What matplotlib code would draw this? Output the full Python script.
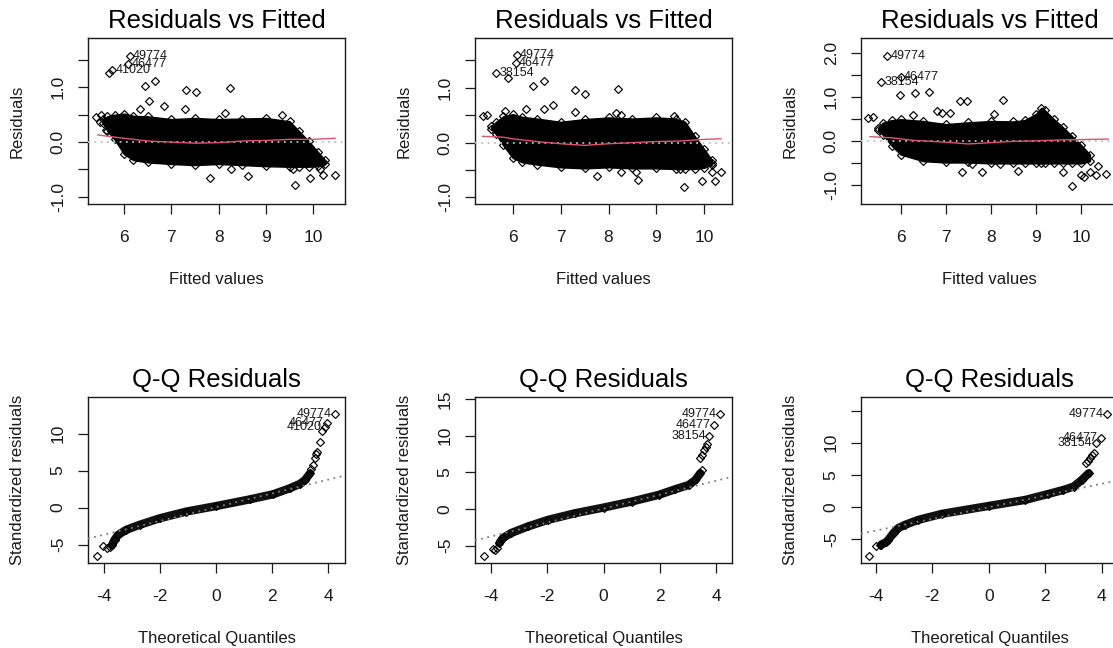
import matplotlib
matplotlib.use('Agg')
import matplotlib.pyplot as plt

plt.rcParams['font.family'] = ['Liberation Sans', 'DejaVu Sans']

# ---------------- Residuals vs Fitted (top row) ----------------
# outline of the dense black cloud: fitted value, upper and lower residual edge
cloud1_x = [5.55, 5.65, 5.8, 6.0, 6.2, 6.5, 7.0, 7.5, 8.0, 8.5, 9.0, 9.5, 9.7, 9.9, 10.1, 10.25]
cloud1_up = [0.42, 0.47, 0.5, 0.52, 0.48, 0.47, 0.42, 0.44, 0.42, 0.43, 0.44, 0.38, 0.2, 0.02, -0.18, -0.33]
cloud1_lo = [0.35, 0.2, 0.05, -0.22, -0.33, -0.37, -0.4, -0.42, -0.4, -0.42, -0.44, -0.45, -0.45, -0.45, -0.44, -0.40]

cloud2_x = [5.55, 5.65, 5.8, 6.0, 6.2, 6.5, 7.0, 7.5, 8.0, 8.5, 9.0, 9.4, 9.6, 9.8, 10.0, 10.16]
cloud2_up = [0.3, 0.38, 0.48, 0.52, 0.47, 0.44, 0.38, 0.43, 0.46, 0.44, 0.46, 0.44, 0.38, 0.12, -0.12, -0.32]
cloud2_lo = [0.25, 0.15, -0.05, -0.28, -0.36, -0.40, -0.45, -0.47, -0.45, -0.47, -0.47, -0.48, -0.48, -0.48, -0.46, -0.40]

cloud3_x = [5.5, 5.6, 5.8, 6.0, 6.5, 7.0, 7.5, 8.0, 8.5, 8.75, 9.0, 9.12, 9.2, 9.4, 9.6, 9.8, 10.0, 10.2]
cloud3_up = [0.3, 0.42, 0.48, 0.5, 0.46, 0.39, 0.43, 0.46, 0.45, 0.48, 0.62, 0.76, 0.7, 0.5, 0.32, 0.12, -0.08, -0.3]
cloud3_lo = [0.25, 0.15, -0.1, -0.3, -0.45, -0.48, -0.48, -0.5, -0.5, -0.5, -0.5, -0.5, -0.5, -0.5, -0.5, -0.5, -0.5, -0.45]

# stray points outside the cloud
out1_x = [5.68, 6.44, 6.66, 6.53, 6.85, 7.32, 7.52, 7.28, 8.24, 6.33, 8.14, 9.33, 7.81, 8.62, 9.61,
          9.93, 10.2, 10.46, 10.21, 10.14, 9.58, 8.26, 5.41, 5.52, 5.49, 5.63]
out1_y = [1.26, 1.02, 1.12, 0.75, 0.66, 0.95, 0.91, 0.6, 0.98, 0.61, 0.53, 0.5, -0.65, -0.62, -0.78,
          -0.65, -0.6, -0.6, -0.37, -0.49, -0.49, -0.49, 0.46, 0.49, 0.37, 0.22]
out2_x = [5.9, 6.42, 6.65, 6.28, 6.65, 6.84, 7.29, 7.5, 7.29, 8.2, 8.15, 8.27, 5.37, 5.46, 5.83, 9.36,
          7.75, 8.27, 8.62, 8.57, 9.57, 9.95, 10.23, 10.16, 10.34, 10.17, 9.5]
out2_y = [1.18, 1.04, 1.12, 0.61, 0.61, 0.68, 0.96, 0.89, 0.56, 0.98, 0.55, 0.5, 0.48, 0.51, 0.57, 0.48,
          -0.61, -0.53, -0.68, -0.53, -0.81, -0.7, -0.7, -0.53, -0.53, -0.37, -0.49]
out3_x = [5.99, 6.32, 6.63, 7.32, 7.47, 8.28, 6.28, 6.8, 6.91, 7.1, 8.06, 5.27, 5.39, 7.36, 7.8, 7.58,
          8.61, 9.8, 9.99, 10.06, 10.33, 10.56, 10.37, 9.61, 8.21, 10.2]
out3_y = [1.06, 1.1, 1.12, 0.91, 0.91, 0.94, 0.59, 0.69, 0.65, 0.65, 0.61, 0.52, 0.55, -0.7, -0.7, -0.51,
          -0.67, -1.02, -0.77, -0.81, -0.77, -0.75, -0.57, -0.7, -0.51, -0.7]

# labelled observations
ids1 = ['49774', '46477', '41020']
ids1_x = [6.12, 6.08, 5.75]
ids1_y = [1.58, 1.43, 1.32]
ids2 = ['49774', '46477', '38154']
ids2_x = [6.08, 6.06, 5.65]
ids2_y = [1.6, 1.45, 1.28]
ids3 = ['49774', '46477', '38154']
ids3_x = [5.7, 6.0, 5.56]
ids3_y = [1.93, 1.45, 1.34]

# red smoother
smooth1_x = [5.45, 5.9, 6.5, 7.0, 7.5, 8.0, 8.5, 9.0, 9.5, 10.0, 10.46]
smooth1_y = [0.13, 0.08, 0.02, 0.0, -0.02, -0.01, 0.02, 0.03, 0.05, 0.05, 0.07]
smooth2_x = [5.37, 5.8, 6.0, 6.5, 7.0, 7.5, 8.0, 8.5, 9.0, 9.5, 10.0, 10.35]
smooth2_y = [0.115, 0.1, 0.07, 0.02, -0.02, -0.05, -0.02, 0.0, 0.02, 0.03, 0.06, 0.07]
smooth3_x = [5.32, 5.8, 6.3, 7.0, 7.5, 8.0, 8.5, 9.0, 9.5, 10.0, 10.6]
smooth3_y = [0.105, 0.08, 0.02, -0.02, -0.06, -0.03, 0.0, 0.01, 0.03, 0.04, 0.05]

# ---------------- Q-Q Residuals (bottom row) ----------------
qq1_x = [-3.72, -3.62, -3.5, -3.2, -2.73, -2.0, -1.06, 0, 1.2, 2.04, 2.63, 2.99, 3.17, 3.35]
qq1_y = [-5.1, -4.35, -3.7, -3.0, -2.33, -1.44, -0.54, 0.2, 1.1, 1.8, 2.6, 3.2, 3.7, 4.6]
qq1_tail_x = [-4.24, -4.04, -3.9, -3.8, 3.4, 3.46, 3.52, 3.55, 3.6, 3.7, 3.77]
qq1_tail_y = [-6.6, -5.25, -5.5, -5.35, 5.2, 5.8, 6.7, 7.2, 7.5, 8.83, 10.3]
qq1_ids = ['49774', '46477', '41020']
qq1_ids_x = [4.24, 3.95, 3.88]
qq1_ids_y = [12.6, 11.4, 10.85]
qq1_line = (0.05, 0.93)  # intercept, slope

qq2_x = [-3.7, -3.58, -3.29, -2.69, -1.98, -1.02, 0, 1.0, 1.95, 2.54, 3.02, 3.25, 3.43]
qq2_y = [-4.66, -3.98, -3.3, -2.4, -1.5, -0.6, 0.18, 1.0, 1.9, 2.67, 3.26, 3.9, 4.84]
qq2_tail_x = [-4.26, -3.94, -3.85, -3.78, 3.49, 3.43, 3.5, 3.55, 3.62, 3.67]
qq2_tail_y = [-6.4, -5.43, -5.6, -5.3, 5.3, 7.0, 7.4, 8.0, 8.4, 8.9]
qq2_ids = ['49774', '46477', '38154']
qq2_ids_x = [4.15, 3.91, 3.75]
qq2_ids_y = [12.9, 11.5, 10.0]
qq2_line = (0.04, 0.95)

qq3_x = [-3.8, -3.62, -3.55, -3.37, -3.2, -2.96, -2.49, -1.66, 0, 1.29, 2.11, 2.64, 3.0, 3.29, 3.53]
qq3_y = [-5.8, -5.4, -5.05, -4.0, -3.25, -2.73, -1.96, -1.03, 0.2, 1.13, 2.06, 2.68, 3.2, 4.23, 5.26]
qq3_tail_x = [-4.24, -4.0, -3.85, 3.45, 3.5, 3.59, 3.65, 3.71]
qq3_tail_y = [-7.63, -5.98, -5.8, 6.8, 7.1, 7.58, 8.1, 8.45]
qq3_ids = ['49774', '46477', '38154']
qq3_ids_x = [4.18, 3.98, 3.79]
qq3_ids_y = [14.4, 10.8, 9.9]
qq3_line = (0.0, 0.91)

INK = '#1a1a1a'
W, H = 1113, 648
cols_px = [88, 475, 861]
rows_px = [(38, 204), (397, 563)]
AX_W = 257
MK = dict(ls='none', marker='D', ms=4.3, mfc='none', mec='black', mew=0.85)


def make_axes(fig, col, row):
    top, bot = rows_px[row]
    ax = fig.add_axes([cols_px[col] / W, (H - bot) / H, AX_W / W, (bot - top) / H])
    for s in ax.spines.values():
        s.set_color(INK)
        s.set_linewidth(1.0)
    ax.tick_params(direction='out', length=7, width=0.9, colors=INK, labelsize=12.5)
    ax.tick_params(axis='x', pad=11.5)
    ax.tick_params(axis='y', pad=9)
    return ax


def style_axes(ax, title, xlabel, ylabel, xlim, ylim, xticks, yticks, ylabels):
    ax.set_xlim(xlim)
    ax.set_ylim(ylim)
    ax.set_xticks(xticks)
    ax.set_xticklabels([str(t) for t in xticks])
    ax.set_yticks(yticks)
    ax.set_yticklabels(ylabels, rotation=90, va='center')
    ax.set_title(title, fontsize=18.5, pad=7.5, color='black')
    ax.set_xlabel(xlabel, fontsize=12, color=INK)
    ax.set_ylabel(ylabel, fontsize=12, color=INK)
    ax.xaxis.set_label_coords(0.5, -0.455)
    ax.xaxis.label.set_va('center')
    ax.yaxis.set_label_coords(-0.276, 0.5)
    ax.yaxis.label.set_va('center')


def rvf_panel(ax, cx, cup, clo, ox, oy, ids, idx, idy, sx, sy, xlim, ylim, yticks, ylabels):
    ax.fill_between(cx, clo, cup, color='black', lw=1.0, zorder=2)
    ax.plot(cx, cup, zorder=2, **MK)
    ax.plot(cx, clo, zorder=2, **MK)
    ax.plot(ox, oy, zorder=2, **MK)
    ax.plot(idx, idy, zorder=2, **MK)
    ax.plot(sx, sy, color='#DF536B', lw=1.0, zorder=4)
    ax.axhline(0, color='#bebebe', ls=(0, (1, 2.5)), lw=1.3, zorder=3)
    for lab, x, y in zip(ids, idx, idy):
        ax.annotate(lab, (x, y), xytext=(2.5, 0), textcoords='offset points',
                    ha='left', va='center', fontsize=9, color=INK)
    style_axes(ax, 'Residuals vs Fitted', 'Fitted values', 'Residuals',
               xlim, ylim, [6, 7, 8, 9, 10], yticks, ylabels)


def qq_panel(ax, qx, qy, tx, ty, ids, idx, idy, line, xlim, ylim, yticks, ylabels):
    ax.plot(qx, qy, color='#111111', lw=6.0, solid_capstyle='round', zorder=2)
    ax.plot(qx, qy, zorder=2, **MK)
    ax.plot(tx, ty, zorder=2, **MK)
    ax.plot(idx, idy, zorder=2, **MK)
    b0, b1 = line
    ax.axline((0, b0), slope=b1, color='#7f7f7f', ls=(0, (1, 2.5)), lw=1.3, zorder=3)
    for lab, x, y in zip(ids, idx, idy):
        ax.annotate(lab, (x, y), xytext=(-2.5, 0), textcoords='offset points',
                    ha='right', va='center', fontsize=9, color=INK)
    style_axes(ax, 'Q-Q Residuals', 'Theoretical Quantiles', 'Standardized residuals',
               xlim, ylim, [-4, -2, 0, 2, 4], yticks, ylabels)


fig = plt.figure(figsize=(W / 100, H / 100), dpi=100)

res_ticks = [-1.0, -0.5, 0.0, 0.5, 1.0, 1.5]
res_labels = ['-1.0', '', '0.0', '', '1.0', '']
rvf_panel(make_axes(fig, 0, 0), cloud1_x, cloud1_up, cloud1_lo, out1_x, out1_y,
          ids1, ids1_x, ids1_y, smooth1_x, smooth1_y, (5.24, 10.67), (-1.13, 1.9),
          res_ticks, res_labels)
rvf_panel(make_axes(fig, 1, 0), cloud2_x, cloud2_up, cloud2_lo, out2_x, out2_y,
          ids2, ids2_x, ids2_y, smooth2_x, smooth2_y, (5.21, 10.58), (-1.12, 1.91),
          res_ticks, res_labels)
rvf_panel(make_axes(fig, 2, 0), cloud3_x, cloud3_up, cloud3_lo, out3_x, out3_y,
          ids3, ids3_x, ids3_y, smooth3_x, smooth3_y, (5.12, 10.82), (-1.42, 2.34),
          [-1.0, -0.5, 0.0, 0.5, 1.0, 1.5, 2.0], ['-1.0', '', '0.0', '', '1.0', '', '2.0'])

qq_panel(make_axes(fig, 0, 1), qq1_x, qq1_y, qq1_tail_x, qq1_tail_y,
         qq1_ids, qq1_ids_x, qq1_ids_y, qq1_line, (-4.57, 4.6), (-7.49, 14.93),
         [-5, 0, 5, 10], ['-5', '0', '5', '10'])
qq_panel(make_axes(fig, 1, 1), qq2_x, qq2_y, qq2_tail_x, qq2_tail_y,
         qq2_ids, qq2_ids_x, qq2_ids_y, qq2_line, (-4.57, 4.56), (-7.38, 15.25),
         [-5, 0, 5, 10, 15], ['-5', '0', '5', '10', '15'])
qq_panel(make_axes(fig, 2, 1), qq3_x, qq3_y, qq3_tail_x, qq3_tail_y,
         qq3_ids, qq3_ids_x, qq3_ids_y, qq3_line, (-4.52, 4.57), (-8.66, 17.1),
         [-5, 0, 5, 10, 15], ['-5', '0', '5', '10', ''])

fig.savefig('out.png', dpi=100, facecolor='white')
